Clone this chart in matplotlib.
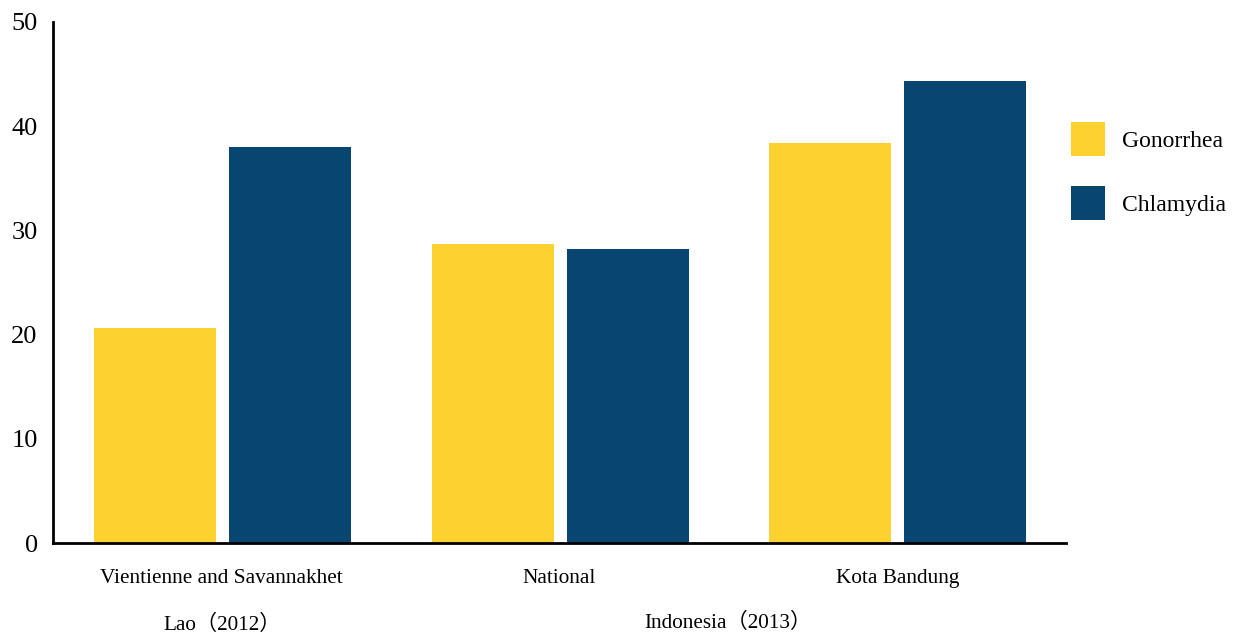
import matplotlib.pyplot as plt
import numpy as np

# prevalence (%) by study site
sites = ['Vientienne and Savannakhet', 'National', 'Kota Bandung']
gonorrhea = [20.6, 28.7, 38.4]
chlamydia = [38.0, 28.2, 44.3]
yticks = [0, 10, 20, 30, 40, 50]

# country headings under the site names: (label, first site, last site)
countries = [('Lao（2012）', 0, 0), ('Indonesia（2013）', 1, 2)]

yellow = '#FDD230'
navy = '#094571'
serif = ['Liberation Serif', 'Noto Sans CJK SC']

plt.rcParams['font.family'] = serif

fig = plt.figure(figsize=(12.36, 6.34), dpi=100)
ax = fig.add_axes([0.0429, 0.1435, 0.8196, 0.8218])

x = np.arange(len(sites))
w = 0.361
off = 0.2
ax.bar(x - off + 0.002, gonorrhea, w, color=yellow, label='Gonorrhea')
ax.bar(x + off + 0.002, chlamydia, w, color=navy, label='Chlamydia')

ax.set_xlim(-0.5, 2.5)
ax.set_ylim(0, 50)
ax.set_yticks(yticks)
ax.set_xticks(x)
ax.set_xticklabels(sites, fontsize=15.3)
ax.tick_params(axis='x', length=0, pad=19)
ax.tick_params(axis='y', length=0, pad=11, labelsize=19)

for s in ['top', 'right']:
    ax.spines[s].set_visible(False)
for s in ['left', 'bottom']:
    ax.spines[s].set_linewidth(2)
    ax.spines[s].set_color('black')

for name, a, b in countries:
    ax.text((a + b) / 2, -0.157 if a == b else -0.153, name,
            transform=ax.get_xaxis_transform(),
            ha='center', va='center', fontsize=15.3, family=serif)

ax.legend(loc='upper left', bbox_to_anchor=(1071 / 1236, 1 - 122 / 634),
          bbox_transform=fig.transFigure, frameon=False, fontsize=17,
          borderpad=0, borderaxespad=0, handlelength=1.44, handleheight=1.84,
          handletextpad=0.72, labelspacing=1.27)

fig.savefig('out.png', dpi=100)
